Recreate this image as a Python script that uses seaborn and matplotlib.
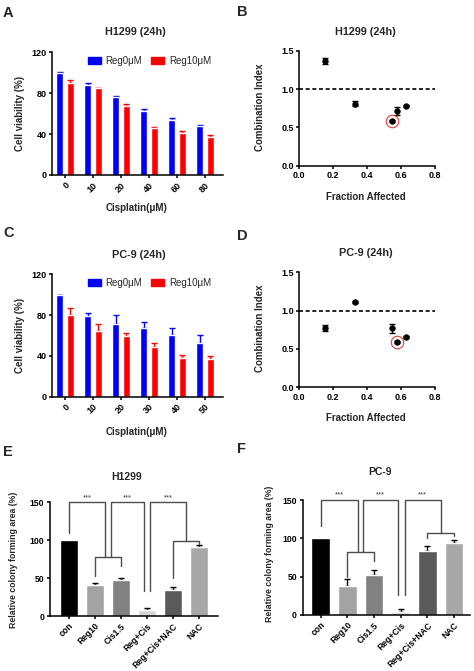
import matplotlib
matplotlib.use("Agg")
import matplotlib.pyplot as plt
from matplotlib.patches import Patch
import numpy as np
import pandas as pd
import seaborn as sns

sns.set_style("ticks")
plt.rcParams['font.family'] = ['Liberation Sans', 'DejaVu Sans']
plt.rcParams['font.weight'] = 'bold'
plt.rcParams['axes.linewidth'] = 1.1
plt.rcParams['xtick.major.width'] = 1.1
plt.rcParams['ytick.major.width'] = 1.1
plt.rcParams['xtick.major.size'] = 2.5
plt.rcParams['ytick.major.size'] = 2.5
plt.rcParams['xtick.major.pad'] = 1.5
plt.rcParams['ytick.major.pad'] = 1.5

# ---------------- data ----------------
series_names = ['Reg0μM', 'Reg10μM']
series_colors = ['#0000ff', '#ff0000']

conc_A = ['0', '10', '20', '40', '60', '80']
A_reg0 = [100, 88.5, 76, 62.5, 53.5, 48]
A_reg0_err = [0.5, 1, 1, 2.3, 2.3, 1]
A_reg10 = [90, 85, 67, 45.5, 41.5, 37.5]
A_reg10_err = [2.6, 0.5, 2.3, 1.6, 1.6, 1.3]

conc_C = ['0', '10', '20', '30', '40', '50']
C_reg0 = [100, 79, 71.5, 67, 60, 53]
C_reg0_err = [0, 3.3, 8.5, 5.9, 6.9, 7.2]
C_reg10 = [80, 64, 59.5, 48.5, 37.5, 37]
C_reg10_err = [7.2, 7.2, 3, 4.2, 3.6, 3.3]

B_fa = [0.15, 0.33, 0.55, 0.58, 0.63]
B_ci = [1.37, 0.81, 0.58, 0.71, 0.78]
B_err = [0.04, 0.03, 0.01, 0.05, 0.01]
B_highlight = 2

D_fa = [0.15, 0.33, 0.55, 0.58, 0.63]
D_ci = [0.77, 1.11, 0.77, 0.59, 0.655]
D_err = [0.04, 0.01, 0.06, 0.01, 0.01]
D_highlight = 3

groups = ['con', 'Reg10', 'Cis1.5', 'Reg+Cis', 'Reg+Cis+NAC', 'NAC']
group_colors = ['#000000', '#a3a3a3', '#818181', '#d6d6d6', '#5a5a5a', '#a8a8a8']
E_vals = [100, 40.5, 48, 8, 34, 91.5]
E_err = [0, 2.5, 2, 2, 4.5, 2]
F_vals = [100, 37.5, 52.5, 3.5, 83.5, 94]
F_err = [0, 9, 6, 4.5, 6.5, 4]

# brackets: (x_left, foot_left, x_right, foot_right), sub-brackets: (xa, foot_a, xb, foot_b, level)
E_brackets = [(0.0, 109, 1.4, 78), (1.6, 78, 2.9, 33), (3.1, 33, 4.5, 99)]
E_sub = [(1, 52.5, 2, 66, 78), (4, 49.6, 5, 94.7, 99)]
F_brackets = [(0.0, 116, 1.4, 81.7), (1.6, 81.7, 2.9, 25.6), (3.15, 25.6, 4.5, 106.5)]
F_sub = [(1, 50, 2, 70, 81.7), (4, 101, 5, 103.5, 106.5)]

W, H = 474, 671
fig = plt.figure(figsize=(W / 100, H / 100), dpi=100)


def add_ax(l, r, t, b):
    return fig.add_axes([l / W, 1 - b / H, (r - l) / W, (b - t) / H])


TICK_FS = 6.5
LAB_FS = 7
TITLE_FS = 7.8


def style_axes(ax, fs=TICK_FS):
    sns.despine(ax=ax)
    for s in ['left', 'bottom']:
        ax.spines[s].set_color('black')
    ax.tick_params(axis='both', labelsize=fs, colors='black', direction='out')
    for lab in ax.get_xticklabels() + ax.get_yticklabels():
        lab.set_fontweight('bold')


def viability_panel(ax, conc, v0, e0, v1, e1, title, ylabel_y=0.5, xlabel_y=-0.23, title_x=0.5, title_y=1.16):
    df = pd.DataFrame({
        'conc': conc + conc,
        'val': v0 + v1,
        'grp': [series_names[0]] * len(conc) + [series_names[1]] * len(conc),
    })
    sns.barplot(data=df, x='conc', y='val', hue='grp', palette=series_colors,
                width=0.76, gap=0.32, errorbar=None, saturation=1, legend=False,
                ax=ax, zorder=2)
    for cont, vals, errs, col in zip(ax.containers, [v0, v1], [e0, e1], series_colors):
        xs = [p.get_x() + p.get_width() / 2 for p in cont.patches]
        ax.errorbar(xs, vals, yerr=[np.zeros(len(errs)), errs], fmt='none',
                    ecolor=col, elinewidth=1.0, capsize=2.0, capthick=1.0, zorder=1)
    ax.set_ylim(0, 120)
    ax.set_yticks([0, 40, 80, 120])
    ax.set_xlim(-0.46, 5.64)
    style_axes(ax)
    plt.setp(ax.get_xticklabels(), rotation=45, ha='right', rotation_mode='anchor')
    ax.set_ylabel('Cell viability (%)', fontsize=LAB_FS, fontweight='bold')
    ax.set_xlabel('Cisplatin(μM)', fontsize=LAB_FS, fontweight='bold')
    ax.yaxis.set_label_coords(-0.158, ylabel_y)
    ax.xaxis.set_label_coords(0.497, xlabel_y)
    ax.text(title_x, title_y, title, transform=ax.transAxes, ha='center', va='center',
            fontsize=TITLE_FS, fontweight='bold')
    handles = [Patch(facecolor=c, edgecolor=c) for c in series_colors]
    ax.legend(handles, series_names, ncol=2, frameon=False, loc='center left',
              bbox_to_anchor=(0.17, 0.93), handlelength=1.3,
              handleheight=0.6, handletextpad=0.5, columnspacing=0.95,
              prop={'weight': 'normal', 'size': 7.0}, borderpad=0.2)


def ci_panel(ax, fa, ci, err, hi, title, title_x=0.49, title_y=1.165, xlabel_y=-0.225):
    ax.axhline(1.0, color='black', lw=1.2, ls=(0, (2.4, 1.6)), zorder=1)
    ax.errorbar(fa, ci, yerr=err, fmt='none', ecolor='black', elinewidth=1.0,
                capsize=2.0, capthick=1.0, zorder=2)
    sns.scatterplot(x=fa, y=ci, color='black', s=16, edgecolor='black', linewidth=0.5,
                    ax=ax, zorder=3)
    ax.plot([fa[hi]], [ci[hi]], marker='o', ms=9, mfc='none', mec='#e03c3c', mew=0.8,
            ls='none', zorder=4)
    ax.set_xlim(0, 0.8)
    ax.set_ylim(0, 1.5)
    ax.set_xticks([0.0, 0.2, 0.4, 0.6, 0.8])
    ax.set_yticks([0.0, 0.5, 1.0, 1.5])
    ax.set_xticklabels(['0.0', '0.2', '0.4', '0.6', '0.8'])
    ax.set_yticklabels(['0.0', '0.5', '1.0', '1.5'])
    style_axes(ax)
    ax.set_ylabel('Combination Index', fontsize=LAB_FS, fontweight='bold')
    ax.set_xlabel('Fraction Affected', fontsize=LAB_FS, fontweight='bold')
    ax.yaxis.set_label_coords(-0.253, 0.51)
    ax.xaxis.set_label_coords(0.49, xlabel_y)
    ax.text(title_x, title_y, title, transform=ax.transAxes, ha='center', va='center',
            fontsize=TITLE_FS, fontweight='bold')


def colony_panel(ax, vals, errs, brackets, subs, title, xlim, ylabel_x, ylabel_y, title_x, title_y, width):
    sns.barplot(x=groups, y=vals, hue=groups, palette=group_colors, width=width,
                errorbar=None, saturation=1, legend=False, ax=ax, zorder=2)
    xs = [p.get_x() + p.get_width() / 2 for p in ax.patches]
    sel = [i for i, e in enumerate(errs) if e > 0]
    ax.errorbar([xs[i] for i in sel], [vals[i] for i in sel],
                yerr=[np.zeros(len(sel)), [errs[i] for i in sel]], fmt='none',
                ecolor='black', elinewidth=1.0, capsize=2.2, capthick=1.0, zorder=1)
    ax.set_ylim(0, 150)
    ax.set_yticks([0, 50, 100, 150])
    ax.set_xlim(*xlim)
    style_axes(ax, fs=6.2)
    plt.setp(ax.get_xticklabels(), rotation=45, ha='right', rotation_mode='anchor')
    bc = '#4d4d4d'
    top = 150
    for (x1, f1, x2, f2) in brackets:
        ax.plot([x1, x1, x2, x2], [f1, top, top, f2], color=bc, lw=1.0, clip_on=False, zorder=3)
        ax.text((x1 + x2) / 2, top + 1.5, '***', ha='center', va='bottom', fontsize=5.5,
                color='#333333', fontweight='normal')
    for (xa, fa_, xb, fb, lvl) in subs:
        ax.plot([xa, xa, xb, xb], [fa_, lvl, lvl, fb], color=bc, lw=1.0, clip_on=False, zorder=3)
    ax.set_ylabel('Relative colony forming area (%)', fontsize=6.3, fontweight='bold')
    ax.set_xlabel('')
    ax.yaxis.set_label_coords(ylabel_x, ylabel_y)
    ax.text(title_x, title_y, title, transform=ax.transAxes, ha='center', va='center',
            fontsize=7.5, fontweight='bold')


axA = add_ax(52, 223, 52.3, 175)
viability_panel(axA, conc_A, A_reg0, A_reg0_err, A_reg10, A_reg10_err, 'H1299 (24h)',
                xlabel_y=-0.228, title_x=0.49, title_y=1.165)

axB = add_ax(299.3, 434.7, 50.7, 165.7)
ci_panel(axB, B_fa, B_ci, B_err, B_highlight, 'H1299 (24h)', title_x=0.485, title_y=1.163,
         xlabel_y=-0.229)

axC = add_ax(52, 223, 274.3, 396.7)
viability_panel(axC, conc_C, C_reg0, C_reg0_err, C_reg10, C_reg10_err, 'PC-9 (24h)',
                xlabel_y=-0.247, title_x=0.509, title_y=1.158)

axD = add_ax(299.3, 434.7, 272.3, 387.3)
ci_panel(axD, D_fa, D_ci, D_err, D_highlight, 'PC-9 (24h)', title_x=0.494, title_y=1.17,
         xlabel_y=-0.221)

axE = add_ax(50, 218, 502.3, 616)
colony_panel(axE, E_vals, E_err, E_brackets, E_sub, 'H1299', (-0.72, 5.72),
             -0.19, 0.497, 0.456, 1.225, 0.68)

axF = add_ax(302.5, 469.5, 500, 615)
colony_panel(axF, F_vals, F_err, F_brackets, F_sub, 'PC-9', (-0.68, 5.58),
             -0.17, 0.53, 0.464, 1.246, 0.69)

for letter, (px, py) in zip('ABCDEF', [(3, 6), (237, 5), (3, 226), (237, 229), (3, 445), (237, 442)]):
    fig.text(px / W, 1 - py / H, letter, ha='left', va='top', fontsize=10.5, fontweight='bold')

fig.savefig('out.png', dpi=100)
